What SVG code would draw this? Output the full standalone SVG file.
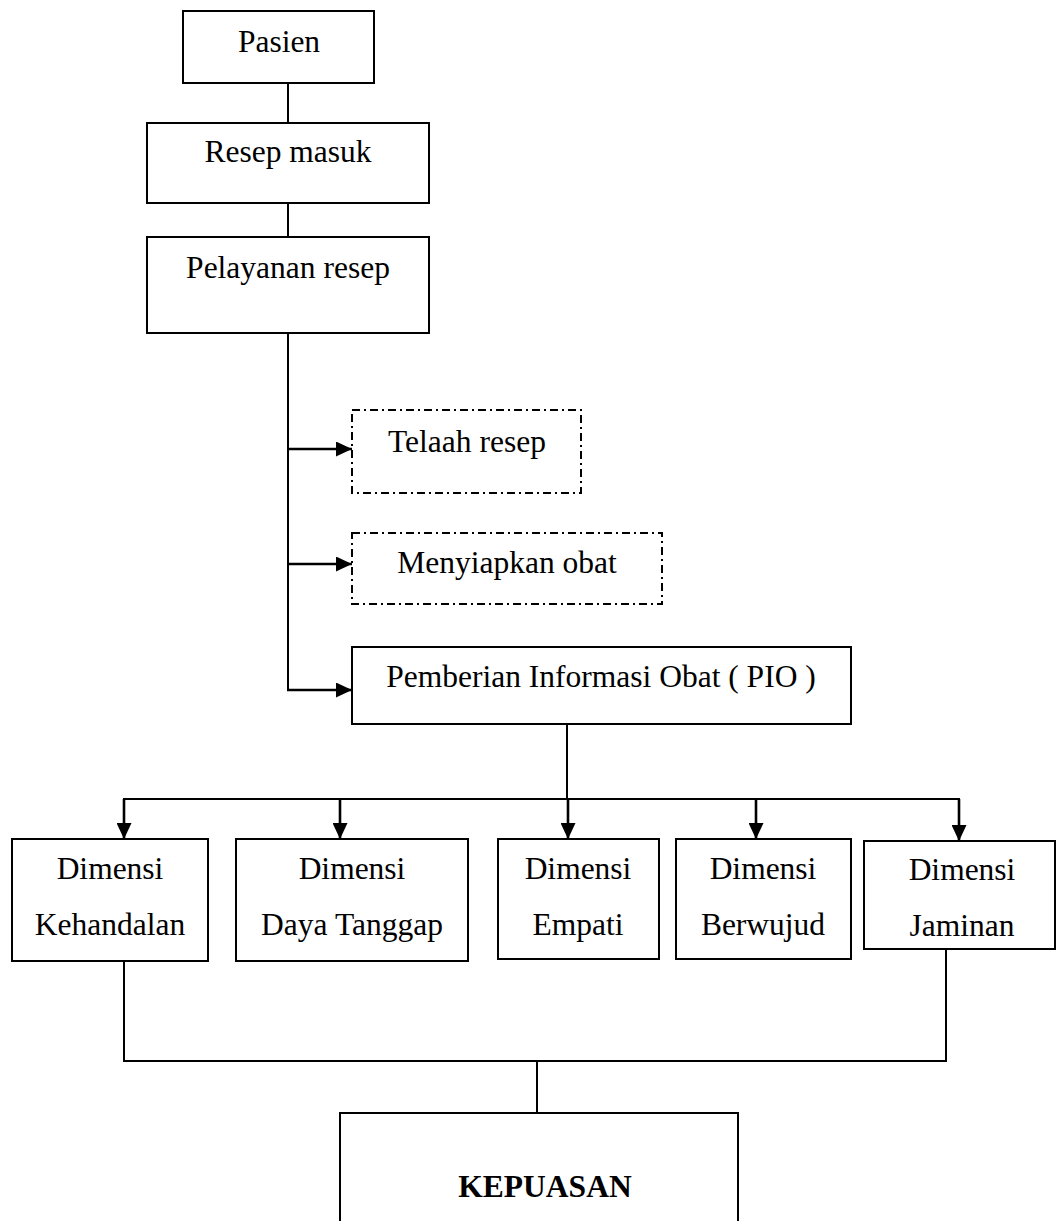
<svg xmlns="http://www.w3.org/2000/svg" width="1056" height="1221" viewBox="0 0 1056 1221">
<style>
  .box { fill: #ffffff; stroke: #000000; stroke-width: 2; }
  .dash { fill: #ffffff; stroke: #000000; stroke-width: 2; stroke-dasharray: 8 4 2 4; }
  .line { fill: none; stroke: #000000; stroke-width: 2; }
  .arrow { fill: none; stroke: #000000; stroke-width: 2.6; marker-end: url(#ah); }
  text { font-family: "Liberation Serif", "Times New Roman", serif; font-size: 31.5px; fill: #000000; text-anchor: middle; }
  .bold { font-weight: bold; }
</style>
<defs>
  <marker id="ah" viewBox="0 0 16 15" refX="16" refY="7.5" markerWidth="16" markerHeight="15" markerUnits="userSpaceOnUse" orient="auto">
    <path d="M0,0 L16,7.5 L0,15 Z" fill="#000000"/>
  </marker>
</defs>
<rect width="1056" height="1221" fill="#ffffff"/>

<g id="connectors">
  <line class="line" x1="288" y1="83" x2="288" y2="128"/>
  <line class="line" x1="288" y1="203" x2="288" y2="237"/>
  <line class="line" x1="288" y1="333" x2="288" y2="691"/>
  <line class="arrow" x1="287" y1="449" x2="352" y2="449"/>
  <line class="arrow" x1="287" y1="564" x2="352" y2="564"/>
  <line class="arrow" x1="287" y1="690" x2="352" y2="690"/>
  <line class="line" x1="567" y1="724" x2="567" y2="800"/>
  <line class="line" x1="123" y1="799" x2="960" y2="799"/>
  <line class="arrow" x1="124" y1="799" x2="124" y2="839"/>
  <line class="arrow" x1="340" y1="799" x2="340" y2="839"/>
  <line class="arrow" x1="568" y1="799" x2="568" y2="839"/>
  <line class="arrow" x1="756" y1="799" x2="756" y2="839"/>
  <line class="arrow" x1="959" y1="799" x2="959" y2="841"/>
  <line class="line" x1="124" y1="961" x2="124" y2="1062"/>
  <line class="line" x1="946" y1="949" x2="946" y2="1062"/>
  <line class="line" x1="123" y1="1061" x2="947" y2="1061"/>
  <line class="line" x1="537" y1="1061" x2="537" y2="1113"/>
</g>

<g id="pasien">
  <rect class="box" x="183" y="11" width="191" height="72"/>
  <text x="279" y="52">Pasien</text>
</g>
<g id="resep-masuk">
  <rect class="box" x="147" y="123" width="282" height="80"/>
  <text x="288" y="162">Resep masuk</text>
</g>
<g id="pelayanan-resep">
  <rect class="box" x="147" y="237" width="282" height="96"/>
  <text x="288" y="278">Pelayanan resep</text>
</g>
<g id="telaah-resep">
  <rect class="dash" x="352" y="410" width="229" height="83"/>
  <text x="467" y="452">Telaah resep</text>
</g>
<g id="menyiapkan-obat">
  <rect class="dash" x="352" y="533" width="310" height="71"/>
  <text x="507" y="573">Menyiapkan obat</text>
</g>
<g id="pio">
  <rect class="box" x="352" y="647" width="499" height="77"/>
  <text x="601" y="687">Pemberian Informasi Obat ( PIO )</text>
</g>
<g id="kehandalan">
  <rect class="box" x="12" y="839" width="196" height="122"/>
  <text x="110" y="879">Dimensi</text>
  <text x="110" y="935">Kehandalan</text>
</g>
<g id="daya-tanggap">
  <rect class="box" x="236" y="839" width="232" height="122"/>
  <text x="352" y="879">Dimensi</text>
  <text x="352" y="935">Daya Tanggap</text>
</g>
<g id="empati">
  <rect class="box" x="498" y="839" width="161" height="120"/>
  <text x="578" y="879">Dimensi</text>
  <text x="578" y="935">Empati</text>
</g>
<g id="berwujud">
  <rect class="box" x="676" y="839" width="175" height="120"/>
  <text x="763" y="879">Dimensi</text>
  <text x="763" y="935">Berwujud</text>
</g>
<g id="jaminan">
  <rect class="box" x="864" y="841" width="191" height="108"/>
  <text x="962" y="880">Dimensi</text>
  <text x="962" y="936">Jaminan</text>
</g>
<g id="kepuasan">
  <rect class="box" x="340" y="1113" width="398" height="120"/>
  <text class="bold" x="545" y="1197">KEPUASAN</text>
</g>
</svg>
